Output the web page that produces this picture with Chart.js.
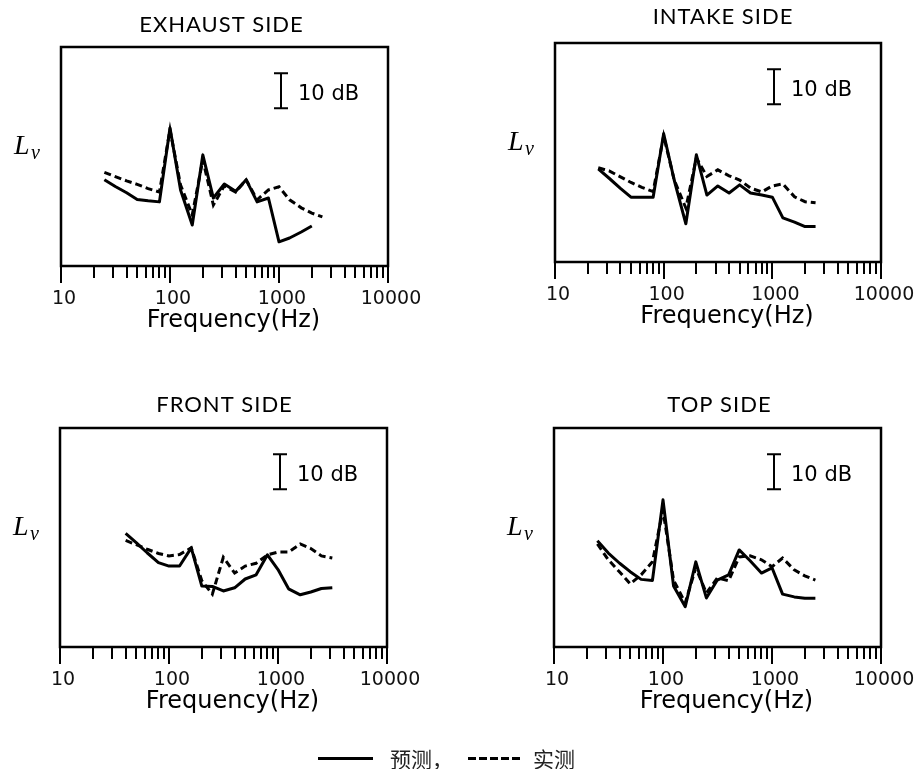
<!DOCTYPE html>
<html>
<head>
<meta charset="utf-8">
<script src="https://cdn.jsdelivr.net/npm/chart.js@4.4.0/dist/chart.umd.min.js"></script>
<style>
  body { margin: 0; background: #fff; }
  #page { position: relative; width: 914px; height: 769px; overflow: hidden; }
  .panel { position: absolute; height: 370px; }
  .lg { position: absolute; font-family: "Noto Sans CJK SC"; font-size: 21px; line-height: 28px; color: #222; }
</style>
</head>
<body>
<div id="page">
  <div class="panel" style="left:0;top:0;width:457px"><canvas id="c1" width="457" height="370"></canvas></div>
  <div class="panel" style="left:457px;top:0;width:500px"><canvas id="c2" width="500" height="370"></canvas></div>
  <div class="panel" style="left:0;top:380px;width:457px"><canvas id="c3" width="457" height="370"></canvas></div>
  <div class="panel" style="left:457px;top:380px;width:500px"><canvas id="c4" width="500" height="370"></canvas></div>

  <!-- shared legend -->
  <div style="position:absolute;left:318px;top:757px;width:55px;height:3px;background:#000"></div>
  <div class="lg" style="left:390px;top:744px">预测，</div>
  <div style="position:absolute;left:468px;top:757px;width:52px;height:3px;background:repeating-linear-gradient(90deg,#000 0 8px,transparent 8px 11px)"></div>
  <div class="lg" style="left:533px;top:744px">实测</div>
</div>

<script>
// 1/3 octave band centres (Hz)
const bands = [25, 31.5, 40, 50, 63, 80, 100, 125, 160, 200, 250, 315, 400, 500, 630, 800, 1000, 1250, 1600, 2000, 2500];
const frontBands = [40, 50, 63, 80, 100, 125, 160, 200, 250, 315, 400, 500, 630, 800, 1000, 1250, 1600, 2000, 2500, 3150];

// x axis ticks
const xTicks = [10, 20, 30, 40, 50, 60, 70, 80, 90,
                100, 200, 300, 400, 500, 600, 700, 800, 900,
                1000, 2000, 3000, 4000, 5000, 6000, 7000, 8000, 9000, 10000];
const xLabels = [10, 100, 1000, 10000];

// levels in dB (relative) - pred = solid, meas = dashed
const exhaustPred = [24.6, 22.7, 20.9, 19.0, 18.6, 18.3, 39.4, 21.7, 11.7, 31.7, 19.4, 23.4, 21.3, 24.6, 18.3, 19.4, 6.9, 8.0, 9.7, 11.4, null];
const exhaustMeas = [26.7, 25.5, 24.3, 23.3, 22.1, 21.1, 38.9, 23.1, 14.6, 30.3, 17.4, 22.9, 21.1, 24.6, 18.9, 21.7, 22.6, 18.9, 16.6, 15.1, 14.0];

const intakePred = [26.6, 23.9, 21.0, 18.5, 18.5, 18.5, 36.6, 23.4, 10.9, 30.6, 19.1, 21.7, 19.7, 22.0, 19.7, 19.1, 18.5, 12.6, 11.4, 10.1, 10.1];
const intakeMeas = [26.9, 26.0, 24.3, 22.7, 21.3, 20.1, 36.0, 23.4, 15.4, 29.7, 24.4, 26.3, 24.6, 23.4, 21.1, 20.0, 21.7, 22.3, 18.6, 17.2, 16.9];

const frontPred = [32.4, 29.8, 26.9, 24.1, 23.1, 23.1, 28.3, 17.4, 17.3, 16.0, 16.9, 19.4, 20.6, 26.3, 22.1, 16.6, 14.9, 15.7, 16.7, 16.9];
const frontMeas = [30.4, 29.2, 27.9, 26.7, 26.0, 26.4, 28.3, 18.9, 15.1, 25.6, 21.1, 23.1, 23.9, 26.3, 27.1, 27.1, 29.4, 28.1, 26.0, 25.4];

const topPred = [30.3, 26.8, 23.9, 21.5, 19.3, 19.0, 42.0, 17.4, 11.5, 24.3, 14.0, 19.1, 20.6, 27.7, 24.6, 21.1, 22.6, 15.1, 14.3, 13.9, 13.9];
const topMeas = [29.4, 24.9, 21.4, 18.0, 20.6, 24.3, 39.1, 19.1, 12.6, 22.6, 15.4, 19.7, 18.9, 25.7, 26.0, 24.9, 22.9, 25.4, 22.0, 20.3, 19.1];

const panels = [
  { id: 'c1', title: 'EXHAUST SIDE', freq: bands, pred: exhaustPred, meas: exhaustMeas },
  { id: 'c2', title: 'INTAKE SIDE', freq: bands, pred: intakePred, meas: intakeMeas },
  { id: 'c3', title: 'FRONT SIDE', freq: frontBands, pred: frontPred, meas: frontMeas },
  { id: 'c4', title: 'TOP SIDE', freq: bands, pred: topPred, meas: topMeas }
];

// plot box of each panel inside its canvas (right canvases are wider, page clips them)
const boxes = [
  { left: 61, right: 69, top: 47, bottom: 266, titleDx: -3, titleDy: -22 },
  { left: 98, right: 76, top: 43, bottom: 262, titleDx: 5, titleDy: -26 },
  { left: 60, right: 70, top: 48, bottom: 267, titleDx: 1, titleDy: -23 },
  { left: 97, right: 76, top: 48, bottom: 267, titleDx: 2, titleDy: -23 }
];

const H = 370;

function decor(p, b) {
  return {
    id: 'decor',
    afterDraw(chart) {
      const { ctx, chartArea: a, scales: { x, y } } = chart;
      ctx.save();
      ctx.strokeStyle = '#000';
      ctx.lineWidth = 2.5;
      ctx.strokeRect(a.left, a.top, a.right - a.left, a.bottom - a.top);

      // tick marks below the axis, major ones longer
      ctx.lineWidth = 2;
      xTicks.forEach(v => {
        const px = Math.round(x.getPixelForValue(v));
        const len = xLabels.includes(v) ? 17 : 12;
        ctx.beginPath();
        ctx.moveTo(px, a.bottom);
        ctx.lineTo(px, a.bottom + len);
        ctx.stroke();
      });

      const cx = (a.left + a.right) / 2;
      ctx.fillStyle = '#000';
      ctx.textBaseline = 'middle';
      ctx.textAlign = 'center';
      ctx.font = '22px Lato';
      ctx.letterSpacing = '1px';
      ctx.fillText(p.title, cx + b.titleDx, a.top + b.titleDy);
      ctx.letterSpacing = '0px';

      ctx.font = '24px "DejaVu Sans"';
      ctx.fillText('Frequency(Hz)', cx + 9, a.bottom + 55);

      // L_v
      ctx.textAlign = 'left';
      ctx.font = 'italic 28px "Liberation Serif"';
      ctx.fillText('L', a.left - 47, a.top + 100);
      ctx.font = 'italic 20px "Liberation Serif"';
      ctx.fillText('v', a.left - 30, a.top + 107);

      // 10 dB scale bar
      const bx = a.right - 107;
      const y1 = y.getPixelForValue(55), y2 = y.getPixelForValue(45);
      ctx.lineWidth = 2;
      ctx.beginPath();
      ctx.moveTo(bx, y1); ctx.lineTo(bx, y2);
      ctx.moveTo(bx - 7, y1); ctx.lineTo(bx + 7, y1);
      ctx.moveTo(bx - 7, y2); ctx.lineTo(bx + 7, y2);
      ctx.stroke();
      ctx.font = '21px "DejaVu Sans"';
      ctx.fillText('10 dB', a.right - 90, (y1 + y2) / 2 + 4);
      ctx.restore();
    }
  };
}

panels.forEach((p, i) => {
  const b = boxes[i];
  const ctx = document.getElementById(p.id).getContext('2d');
  new Chart(ctx, {
    type: 'line',
    data: {
      datasets: [
        {
          label: '预测',
          data: p.freq.map((f, k) => ({ x: f, y: p.pred[k] })),
          borderColor: '#000',
          borderWidth: 3,
          borderJoinStyle: 'round',
          pointRadius: 0,
          tension: 0
        },
        {
          label: '实测',
          data: p.freq.map((f, k) => ({ x: f, y: p.meas[k] })),
          borderColor: '#000',
          borderWidth: 3,
          borderDash: [7, 4],
          pointRadius: 0,
          tension: 0
        }
      ]
    },
    options: {
      responsive: false,
      animation: false,
      devicePixelRatio: 1,
      layout: { padding: { left: b.left, right: b.right, top: b.top, bottom: 0 } },
      plugins: { legend: { display: false }, tooltip: { enabled: false } },
      scales: {
        x: {
          type: 'logarithmic',
          min: 10,
          max: 10000,
          grid: { display: false, drawTicks: false },
          border: { display: false },
          afterBuildTicks: s => { s.ticks = xTicks.map(v => ({ value: v })); },
          afterFit: s => { s.height = H - b.bottom; },
          ticks: {
            autoSkip: false,
            maxRotation: 0,
            padding: 22,
            labelOffset: 3,
            color: '#111',
            font: { family: 'DejaVu Sans', size: 19 },
            callback: v => xLabels.includes(v) ? String(v) : ''
          }
        },
        y: { display: false, min: 0, max: 62.5 }
      }
    },
    plugins: [decor(p, b)]
  });
});
</script>
</body>
</html>
